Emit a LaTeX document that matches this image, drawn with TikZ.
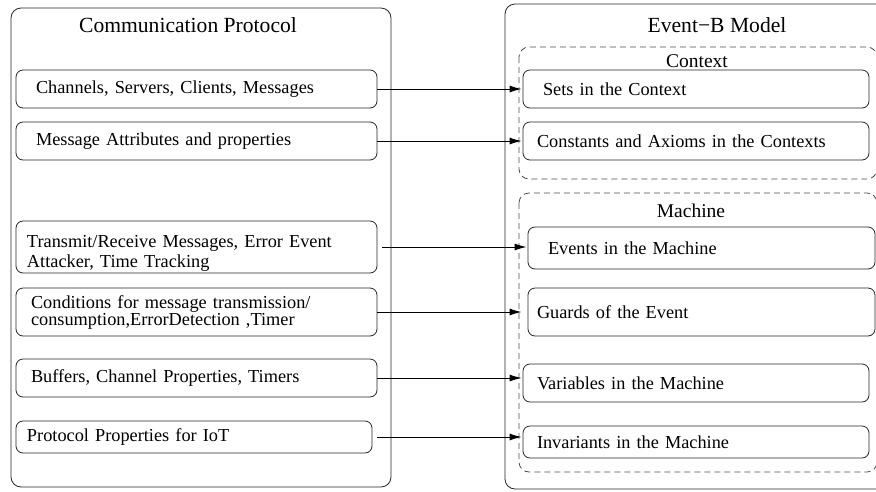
\documentclass[tikz,border=0pt]{standalone}
\usepackage{fontspec}
\setmainfont{Liberation Serif}
\usetikzlibrary{arrows.meta, positioning}

\begin{document}
\begin{tikzpicture}[x=1pt, y=-1pt,
  item/.style={draw=black!85, line width=0.8pt, rounded corners=7pt,
    font=\fontsize{18.3}{20}\selectfont, align=left, inner ysep=0pt},
  frame/.style={draw=black!85, line width=0.8pt, rounded corners=10pt},
  group/.style={draw=black!70, line width=0.8pt, dash pattern=on 6pt off 4pt, rounded corners=10pt},
  title/.style={font=\fontsize{21.6}{24}\selectfont},
  subtitle/.style={font=\fontsize{19.5}{22}\selectfont},
  link/.style={line width=1pt, -{Latex[length=12pt,width=7pt]}, shorten >=1pt}]

\useasboundingbox (0,0) rectangle (876,491);
\clip (0,0) rectangle (876,491);

% Outer frames
\draw[frame] (11,8) rectangle (391,487);
\draw[frame] (505,4) rectangle (895,489);
\node[title] (protocol) at (188,25) {Communication Protocol};
\node[title] (model) at (717,25) {Event−B Model};

% Context / Machine groups
\draw[group] (519,47) rectangle (877,179);
\draw[group] (519,193) rectangle (877,472);
\node[subtitle] (context) at (697,61) {Context};
\node[subtitle] (machine) at (691,211) {Machine};

% Left column
\node[item, minimum height=38, inner xsep=20, text width=321] (chan) at (196.5,89)
  {Channels, Servers, Clients, Messages};
\node[item, minimum height=38, inner xsep=20, text width=321] (attr) at (196.5,141)
  {Message Attributes and properties};
\node[item, minimum height=52, inner xsep=11, text width=339, text depth=12pt] (trans) at (196.5,247)
  {Transmit/Receive Messages, Error Event\\Attacker, Time Tracking};
\node[item, minimum height=48, inner xsep=15, text width=331] (cond) at (196.5,312)
  {Conditions for message transmission/\\[-3pt]consumption,ErrorDetection ,Timer};
\node[item, minimum height=38, inner xsep=15, text width=331] (buf) at (196.5,378)
  {Buffers, Channel Properties, Timers};
\node[item, minimum height=32, inner xsep=11, text width=334] (prop) at (194,437)
  {Protocol Properties for IoT};

% Right column
\node[item, minimum height=38, inner xsep=20, text width=306] (sets) at (696,89)
  {Sets in the Context};
\node[item, minimum height=38, inner xsep=14, text width=318] (consts) at (696,141)
  {Constants and Axioms in the Contexts};
\node[item, minimum height=42, inner xsep=20, text width=307] (events) at (701.5,248)
  {Events in the Machine};
\node[item, minimum height=48, inner xsep=9, text width=329] (guards) at (701.5,312)
  {Guards of the Event};
\node[item, minimum height=38, inner xsep=14, text width=318] (vars) at (696,383)
  {Variables in the Machine};
\node[item, minimum height=32, inner xsep=14, text width=318] (invs) at (696,442)
  {Invariants in the Machine};

% Mappings
\draw[link] (chan.east) -- (chan.east -| sets.west);
\draw[link] (attr.east) -- (attr.east -| consts.west);
\draw[link, shorten <=5pt] (trans.east) -- (trans.east -| events.west);
\draw[link] (cond.east) -- (cond.east -| vars.west);
\draw[link] (buf.east) -- (buf.east -| vars.west);
\draw[link, shorten <=5pt] (prop.east) -- (prop.east -| invs.west);

\end{tikzpicture}
\end{document}
